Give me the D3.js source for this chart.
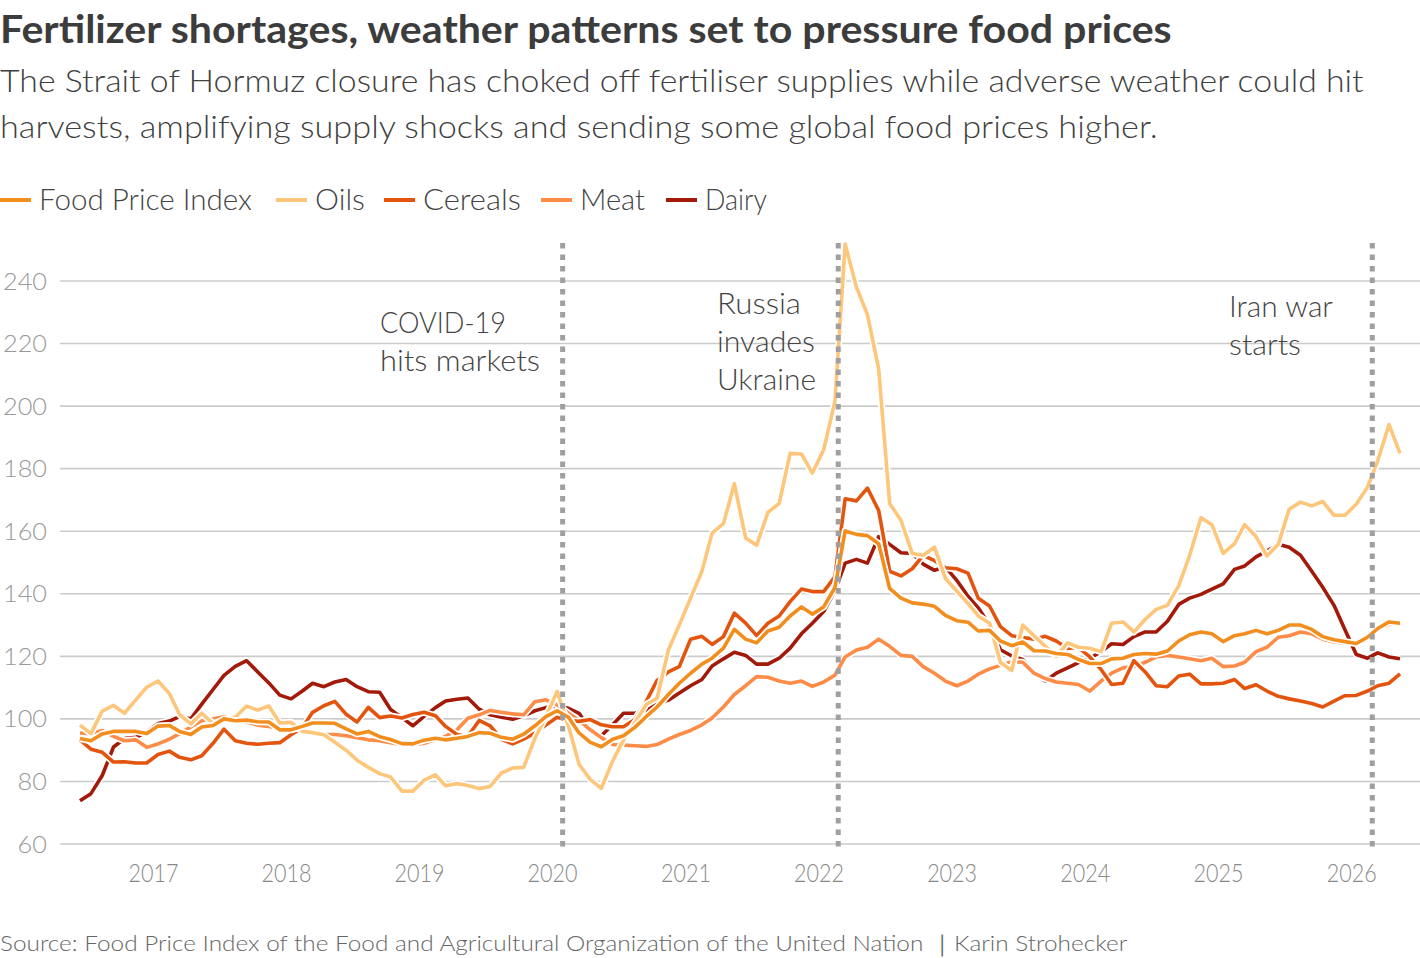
<!DOCTYPE html>
<html><head><meta charset="utf-8">
<script src="https://cdn.jsdelivr.net/npm/d3@7"></script>
<style>
body{margin:0;background:#fff;}
svg{display:block;font-family:Lato,"Open Sans","DejaVu Sans",sans-serif;}
</style></head><body>
<svg id="chart" width="1420" height="958"></svg>
<script>
// ---------- DATA (monthly, Jun 2016 - May 2026) ----------
const startMonth = new Date(2016, 5, 15);
const monthCount = 120;

const foodPriceIndex = [
  93.7, 93.0, 95.2, 96.0, 96.0, 96.0, 95.3,
  97.7, 97.9, 96.0, 95.0, 97.4, 97.9, 100.0, 99.4, 99.6, 99.1, 99.0, 96.5,
  96.5, 97.6, 98.7, 98.7, 98.6, 96.8, 95.2, 96.0, 94.3, 93.4, 92.1, 92.0,
  93.2, 93.8, 93.3, 93.8, 94.4, 95.6, 95.4, 94.1, 93.5, 95.1, 97.8, 100.7,
  102.6, 100.5, 95.5, 92.5, 91.1, 93.5, 94.6, 97.3, 100.7, 103.8, 107.8, 111.4,
  114.6, 117.5, 119.4, 122.6, 128.6, 125.5, 124.3, 128.1, 129.3, 132.9, 135.8, 133.5,
  135.8, 142.0, 160.1, 159.0, 158.6, 156.0, 141.7, 138.6, 137.1, 136.7, 136.0, 133.1,
  131.4, 130.9, 128.1, 128.3, 124.9, 123.4, 124.6, 121.8, 121.7, 120.9, 120.6, 119.0,
  117.7, 117.7, 119.2, 119.4, 120.6, 120.9, 120.7, 121.7, 124.9, 126.9, 127.8, 127.2,
  124.7, 126.6, 127.2, 128.3, 127.2, 128.3, 130.0, 130.0, 128.6, 126.3, 125.3, 124.7,
  124.1, 126.1, 128.9, 131.0, 130.6
];
const oils = [
  98.0, 95.3, 102.5, 104.3, 101.8, 106.1, 110.1,
  112.1, 108.1, 101.4, 98.4, 101.8, 98.5, 99.5, 100.5, 104.1, 102.8, 104.1, 98.7,
  98.9, 96.0, 95.6, 94.9, 92.5, 90.0, 86.8, 84.5, 82.5, 81.4, 76.9, 76.9,
  80.4, 82.1, 78.6, 79.3, 78.7, 77.7, 78.4, 82.7, 84.3, 84.5, 93.8, 100.7,
  108.8, 97.7, 85.5, 80.6, 77.8, 86.5, 93.3, 98.7, 104.6, 106.6, 122.0, 130.0,
  138.6, 147.2, 159.4, 162.4, 175.2, 157.8, 155.5, 166.0, 168.9, 184.9, 184.7, 178.6,
  186.0, 201.5, 251.8, 238.0, 229.3, 211.8, 168.9, 163.5, 152.9, 152.3, 154.9, 144.9,
  140.9, 136.9, 132.9, 130.6, 118.0, 115.5, 130.0, 126.6, 123.2, 120.0, 124.3, 122.9,
  122.6, 121.5, 130.6, 131.0, 127.8, 131.8, 135.0, 136.3, 142.6, 152.3, 164.3, 162.1,
  152.9, 156.0, 162.1, 158.3, 152.1, 155.8, 167.0, 169.3, 168.1, 169.5, 165.1, 165.1,
  168.6, 174.1, 182.6, 194.1, 184.9
];
const cereals = [
  93.3, 90.3, 89.3, 86.2, 86.3, 85.9, 85.9,
  88.6, 89.7, 87.7, 86.9, 88.2, 92.2, 96.7, 93.0, 92.2, 91.9, 92.2, 92.4,
  94.9, 97.2, 102.1, 104.2, 105.6, 101.5, 99.0, 103.7, 100.4, 100.9, 100.3, 101.4,
  102.1, 101.0, 97.6, 95.0, 94.4, 99.5, 97.8, 93.5, 92.0, 93.5, 95.5, 98.0,
  100.5, 99.5, 99.2, 99.8, 98.1, 97.5, 97.5, 99.8, 105.5, 112.3, 115.0, 116.7,
  125.5, 126.4, 123.8, 126.3, 133.8, 130.6, 126.6, 130.6, 132.9, 137.5, 141.5, 140.7,
  140.7, 145.5, 170.4, 169.7, 173.8, 166.6, 147.2, 145.7, 148.0, 152.3, 150.6, 148.3,
  148.0, 146.6, 138.6, 136.1, 129.5, 126.6, 126.0, 125.5, 126.4, 124.9, 122.5, 122.9,
  119.8, 115.8, 111.0, 111.4, 118.6, 115.0, 110.6, 110.3, 113.7, 114.3, 111.2, 111.2,
  111.4, 112.6, 109.7, 110.9, 108.9, 107.2, 106.4, 105.7, 104.9, 103.8, 105.7, 107.4,
  107.5, 108.9, 110.6, 111.4, 114.4
];
const meat = [
  95.5, 95.3, 96.3, 94.4, 93.0, 93.3, 90.9,
  92.0, 93.5, 95.3, 97.4, 99.4, 100.0, 100.7, 99.6, 99.0, 98.0, 97.6, 97.0,
  96.8, 96.5, 95.8, 95.1, 95.0, 94.6, 94.0, 93.3, 93.0, 92.4, 91.8, 91.7,
  92.2, 93.3, 94.4, 96.5, 100.2, 101.3, 102.7, 102.1, 101.6, 101.3, 105.5, 106.1,
  104.5, 101.8, 99.5, 96.5, 94.0, 91.8, 91.6, 91.4, 91.2, 91.8, 93.5, 95.0,
  96.3, 98.1, 100.3, 103.8, 107.8, 110.6, 113.5, 113.3, 112.1, 111.4, 112.1, 110.4,
  111.8, 114.0, 119.8, 122.0, 122.9, 125.5, 123.2, 120.3, 120.0, 116.7, 114.6, 112.1,
  110.6, 112.1, 114.3, 116.0, 117.1, 118.3, 118.1, 114.6, 112.9, 111.8, 111.4, 111.0,
  108.9, 112.1, 114.6, 116.3, 116.7, 118.1, 119.8, 120.3, 119.8, 119.2, 118.6, 119.4,
  116.7, 116.9, 118.1, 121.5, 122.9, 126.1, 126.6, 127.8, 127.2, 125.5, 124.6, 124.3,
  124.5, 126.2, 128.5, 130.2, 130.4
];
const dairy = [
  73.8, 76.1, 81.9, 91.0, 93.7, 94.1, 95.8,
  98.5, 99.3, 100.7, 100.0, 104.7, 109.4, 113.9, 116.8, 118.6, 115.1, 111.5, 107.6,
  106.4, 108.9, 111.4, 110.3, 111.8, 112.6, 110.3, 108.7, 108.5, 103.0, 100.4, 97.8,
  100.8, 103.6, 105.7, 106.3, 106.7, 103.1, 101.3, 100.5, 99.9, 101.0, 102.6, 103.6,
  104.1, 103.4, 101.8, 96.5, 94.6, 98.1, 101.8, 101.8, 102.6, 104.9, 106.0, 108.3,
  110.6, 112.6, 116.9, 119.2, 121.3, 120.3, 117.5, 117.5, 119.4, 122.6, 127.2, 130.6,
  134.3, 141.0, 149.8, 151.0, 149.8, 158.3, 155.8, 153.1, 152.9, 149.5, 147.5, 148.6,
  144.3, 139.2, 135.5, 130.0, 122.1, 120.1, 119.0, 114.6, 112.1, 114.6, 116.3, 118.0,
  119.4, 121.5, 124.0, 123.8, 126.3, 127.8, 127.8, 131.2, 136.6, 138.6, 139.8, 141.5,
  143.2, 147.8, 148.9, 151.8, 153.7, 155.8, 154.9, 152.3, 147.2, 142.1, 136.3, 128.5,
  120.6, 119.4, 121.1, 119.8, 119.2
];

const seriesNames = ["Food Price Index", "Oils", "Cereals", "Meat", "Dairy"];
const seriesValues = [foodPriceIndex, oils, cereals, meat, dairy];
const seriesColors = ["#f28e1e", "#fec67a", "#e3550f", "#fd8c48", "#a3190a"];

const yTicks = [60, 80, 100, 120, 140, 160, 180, 200, 220, 240];
const xTickYears = [2017, 2018, 2019, 2020, 2021, 2022, 2023, 2024, 2025, 2026];

const eventDates = [new Date(2020, 0, 30), new Date(2022, 1, 24), new Date(2026, 1, 28)];
const eventLabels = [["COVID-19", "hits markets"], ["Russia", "invades", "Ukraine"], ["Iran war", "starts"]];

const titleText = "Fertilizer shortages, weather patterns set to pressure food prices";
const subtitleLines = [
  "The Strait of Hormuz closure has choked off fertiliser supplies while adverse weather could hit",
  "harvests, amplifying supply shocks and sending some global food prices higher."
];
const sourceText = "Source: Food Price Index of the Food and Agricultural Organization of the United Nation \uFF5CKarin Strohecker";

// ---------- LAYOUT ----------
const months = d3.range(monthCount).map(i => new Date(startMonth.getFullYear(), startMonth.getMonth() + i, 15));
const svg = d3.select("#chart");
const x = d3.scaleTime().domain([months[0], months[monthCount - 1]]).range([80, 1400]);
const y = d3.scaleLinear().domain([60, 240]).range([844, 281]);

function fitText(parent, str, x0, y0, target, size, weight, color, anchor) {
  const t = parent.append("text").attr("x", 0).attr("y", 0)
    .attr("font-size", size).attr("font-weight", weight).attr("fill", color)
    .attr("text-anchor", anchor || "start").text(str);
  const w = t.node().getComputedTextLength();
  const sx = target && w ? target / w : 1;
  t.attr("transform", `translate(${x0},${y0}) scale(${sx},1)`);
  return t;
}

// Title & subtitle
fitText(svg, titleText, 0, 42.5, 1172, 39, 700, "#3c3c3c");
fitText(svg, subtitleLines[0], 0, 91.5, 1364, 31, 300, "#404040");
fitText(svg, subtitleLines[1], 0, 137.5, 1158, 31, 300, "#404040");

// Legend
const legendSwatchX = [0, 276, 384, 541, 666];
const legendTextW = [213, 50, 98, 65, 62];
const legend = svg.append("g");
seriesNames.forEach((name, i) => {
  legend.append("line").attr("x1", legendSwatchX[i]).attr("x2", legendSwatchX[i] + 31)
    .attr("y1", 200).attr("y2", 200).attr("stroke", seriesColors[i]).attr("stroke-width", 4);
  fitText(legend, name, legendSwatchX[i] + 39, 210, legendTextW[i], 29, 300, "#444");
});

// Gridlines & y labels
const grid = svg.append("g");
yTicks.forEach(t => {
  grid.append("line").attr("x1", 60).attr("x2", 1420).attr("y1", y(t)).attr("y2", y(t))
    .attr("stroke", "#cbcbcb").attr("stroke-width", 1.6);
  const lbl = String(t);
  fitText(grid, lbl, 47, y(t) + 8.5, lbl.length * 14.7, 24, 300, "#999", "end");
});

// X axis
const xAxis = d3.axisBottom(x)
  .tickValues(xTickYears.map(yr => new Date(yr, 0, 1)))
  .tickFormat(d3.timeFormat("%Y")).tickSize(0).tickPadding(0);
const xg = svg.append("g").attr("transform", "translate(0,844)").call(xAxis);
xg.select(".domain").remove();
xg.selectAll("text").attr("y", 0).attr("dy", 0).attr("font-size", 25).attr("font-weight", 300)
  .attr("fill", "#888").attr("font-family", "Lato,'Open Sans',sans-serif")
  .each(function () {
    const w = this.getComputedTextLength();
    d3.select(this).attr("transform", `translate(0,38) scale(${50 / w},1)`);
  });

// Lines (bottom to top)
const drawOrder = [4, 3, 2, 1, 0];
const lineGen = d3.line().x((d, i) => x(months[i])).y(d => y(d));
const linesG = svg.append("g");
drawOrder.forEach(si => {
  linesG.append("path").datum(seriesValues[si]).attr("d", lineGen)
    .attr("fill", "none").attr("stroke", "#fff").attr("stroke-width", 7)
    .attr("stroke-linejoin", "round");
  linesG.append("path").datum(seriesValues[si]).attr("d", lineGen)
    .attr("fill", "none").attr("stroke", seriesColors[si]).attr("stroke-width", 3.6)
    .attr("stroke-linejoin", "round");
});

// Event lines
const evG = svg.append("g");
eventDates.forEach(d => {
  evG.append("line").attr("x1", x(d)).attr("x2", x(d)).attr("y1", 243).attr("y2", 850)
    .attr("stroke", "#9f9f9f").attr("stroke-width", 5).attr("stroke-dasharray", "5.5,6");
});

// Annotations
const annX = [380, 717, 1229];
const annY0 = [332.5, 314, 316.5];
const annW = [[126, 160], [84, 98, 99], [104, 72]];
eventLabels.forEach((lines, k) => {
  lines.forEach((ln, j) => {
    fitText(svg, ln, annX[k], annY0[k] + j * 38, annW[k][j], 30, 300, "#444");
  });
});

// Source
fitText(svg, sourceText, 0, 951, 1128, 22, 300, "#666");
</script>
</body></html>
